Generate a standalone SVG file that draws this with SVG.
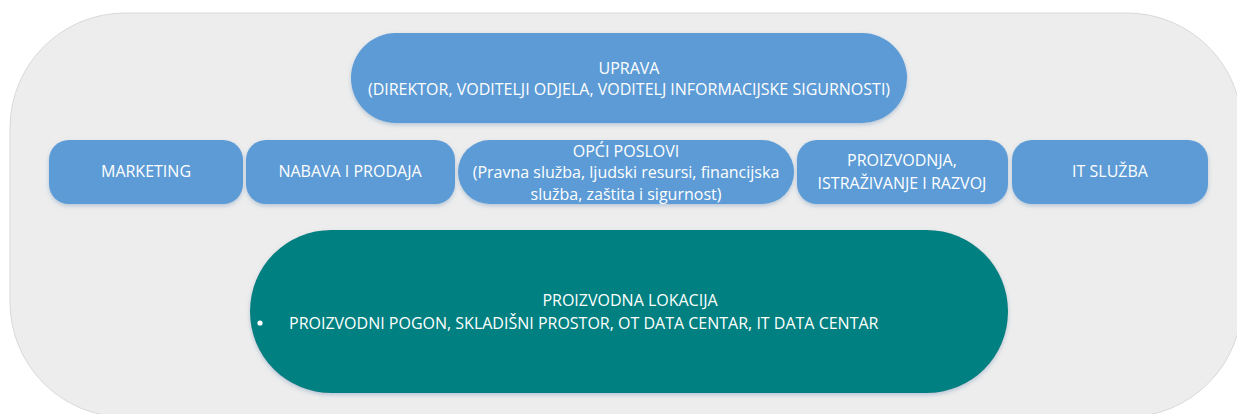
<svg xmlns="http://www.w3.org/2000/svg" width="1237" height="414" viewBox="0 0 1237 414">
<defs>
<style>
.t{font-family:"Open Sans","DejaVu Sans",sans-serif;font-size:16px;fill:#ffffff;text-anchor:middle}
.b{fill:#5b9bd5;filter:url(#sh)}
</style>
<filter id="sh" x="-10%" y="-20%" width="120%" height="150%">
<feDropShadow dx="0" dy="2" stdDeviation="2" flood-color="#7f9fbf" flood-opacity="0.5"/>
</filter>
</defs>
<rect width="1237" height="414" fill="#ffffff"/>
<g id="background">
<rect x="10" y="13" width="1232" height="404" rx="115" ry="115" fill="#ededed" stroke="#d9d9d9" stroke-width="1"/>
</g>
<g id="connectors"></g>
<g id="uprava">
<rect class="b" x="351" y="33" width="556" height="90" rx="45"/>
<text class="t" x="629" y="74">UPRAVA</text>
<text class="t" x="629" y="95">(DIREKTOR, VODITELJI ODJELA, VODITELJ INFORMACIJSKE SIGURNOSTI)</text>
</g>
<g id="marketing">
<rect class="b" x="49" y="140" width="194" height="64" rx="20"/>
<text class="t" x="146" y="177">MARKETING</text>
</g>
<g id="nabava">
<rect class="b" x="246" y="140" width="209" height="64" rx="20"/>
<text class="t" x="350" y="177">NABAVA I PRODAJA</text>
</g>
<g id="opci">
<rect class="b" x="458" y="140" width="336" height="64" rx="32"/>
<text class="t" x="626" y="157">OPĆI POSLOVI</text>
<text class="t" x="626" y="178">(Pravna služba, ljudski resursi, financijska</text>
<text class="t" x="626" y="200">služba, zaštita i sigurnost)</text>
</g>
<g id="proizvodnja">
<rect class="b" x="797" y="140" width="211" height="64" rx="20"/>
<text class="t" x="902" y="166">PROIZVODNJA,</text>
<text class="t" x="902" y="189">ISTRAŽIVANJE I RAZVOJ</text>
</g>
<g id="it">
<rect class="b" x="1012" y="140" width="196" height="64" rx="20"/>
<text class="t" x="1110" y="177">IT SLUŽBA</text>
</g>
<g id="lokacija">
<rect x="250" y="230" width="758" height="163" rx="81" fill="#008080" filter="url(#sh)"/>
<text class="t" x="630" y="306">PROIZVODNA LOKACIJA</text>
<circle cx="260" cy="323" r="2.6" fill="#ffffff"/>
<text class="t" x="289" y="329" style="text-anchor:start">PROIZVODNI POGON, SKLADIŠNI PROSTOR, OT DATA CENTAR, IT DATA CENTAR</text>
</g>
</svg>
